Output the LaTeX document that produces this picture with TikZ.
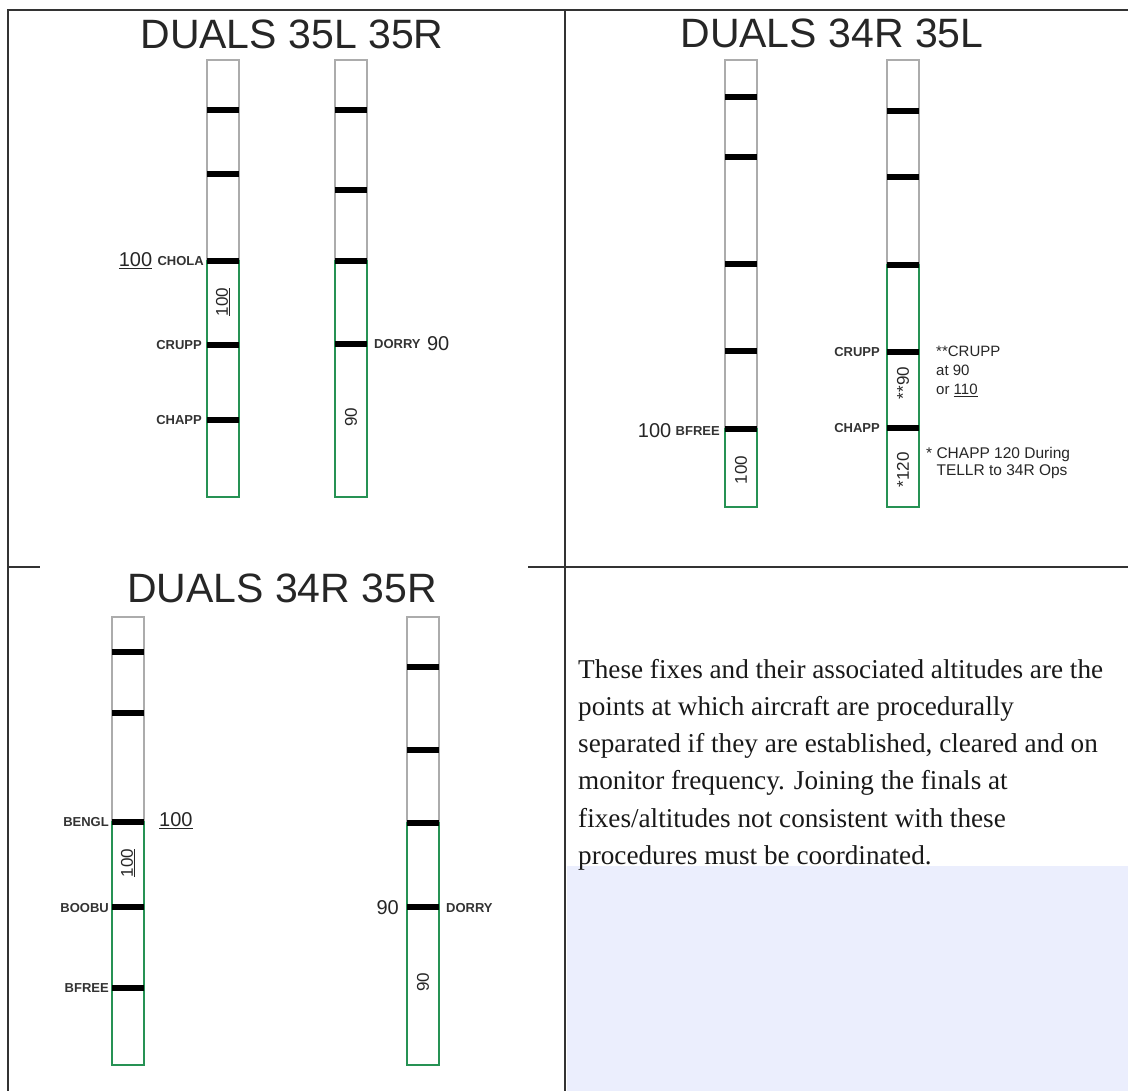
\documentclass[tikz,border=0pt]{standalone}
\usepackage{fontspec}
\setmainfont{Liberation Sans}
\newfontfamily\timesfont{Liberation Serif}
\usepackage{tikz}
\usetikzlibrary{positioning}

\definecolor{boxgreen}{RGB}{38,146,84}
\definecolor{paleblue}{RGB}{235,238,253}

\begin{document}
\begin{tikzpicture}[x=1pt, y=-1pt,
  frame/.style={black!80, line width=1.6pt},
  strip/.style={draw=gray!65, line width=1.2pt},
  fixbox/.style={draw=boxgreen, line width=2pt},
  bar/.style={black, line width=6pt},
  fix/.style={font=\bfseries\fontsize{13}{15}\selectfont, text=black!80, inner sep=1pt},
  alt/.style={font=\fontsize{20}{22}\selectfont, text=black!85, inner sep=1pt},
  inalt/.style={font=\fontsize{17}{19}\selectfont, text=black!85, rotate=90, inner sep=0pt},
  note/.style={font=\fontsize{15}{19}\selectfont, text=black!85, align=left, anchor=north west, inner sep=0pt},
  title/.style={font=\fontsize{41}{45}\selectfont, text=black!85, anchor=base}]
  \useasboundingbox (0,0) rectangle (1128,1091);

  % frame
  \fill[paleblue] (567,866) rectangle (1128,1091);
  \draw[frame] (8,1091) -- (8,10) -- (1128,10);
  \draw[frame] (565,10) -- (565,1091);
  \draw[frame] (8,567) -- (40,567);
  \draw[frame] (528,567) -- (1128,567);

  % DUALS 35L 35R
  \node[title] (titleA) at (292,49) {DUALS 35L 35R};
  \draw[strip] (207,60) rectangle (239,497);
  \draw[fixbox] (207,261) rectangle (239,497);
  \draw[bar] (207,110) -- (239,110);
  \draw[bar] (207,174) -- (239,174);
  \draw[bar] (207,261) -- (239,261);
  \draw[bar] (207,345) -- (239,345);
  \draw[bar] (207,420) -- (239,420);
  \node[fix, anchor=east] (cholaA) at (205,261) {CHOLA};
  \node[alt, left=3pt of cholaA] (altA) {\underline{100}};
  \node[fix, anchor=east] (cruppA) at (203,345) {CRUPP};
  \node[fix, anchor=east] (chappA) at (203,420) {CHAPP};
  \node[inalt] (stripA) at (223,302) {\underline{100}};

  \draw[strip] (335,60) rectangle (367,497);
  \draw[fixbox] (335,261) rectangle (367,497);
  \draw[bar] (335,110) -- (367,110);
  \draw[bar] (335,190) -- (367,190);
  \draw[bar] (335,261) -- (367,261);
  \draw[bar] (335,344) -- (367,344);
  \node[fix, anchor=west] (dorryA) at (373,344) {DORRY};
  \node[alt, right=4pt of dorryA] (altB) {90};
  \node[inalt] (stripB) at (351,417) {90};

  % DUALS 34R 35L
  \node[title] (titleB) at (832,48) {DUALS 34R 35L};
  \draw[strip] (725,60) rectangle (757,507);
  \draw[fixbox] (725,429) rectangle (757,507);
  \draw[bar] (725,97) -- (757,97);
  \draw[bar] (725,157) -- (757,157);
  \draw[bar] (725,264) -- (757,264);
  \draw[bar] (725,351) -- (757,351);
  \draw[bar] (725,429) -- (757,429);
  \node[fix, anchor=east] (bfreeB) at (721,431) {BFREE};
  \node[alt, left=2pt of bfreeB] (altC) {100};
  \node[inalt] (stripC) at (741,470) {100};

  \draw[strip] (887,60) rectangle (919,507);
  \draw[fixbox] (887,265) rectangle (919,507);
  \draw[bar] (887,111) -- (919,111);
  \draw[bar] (887,177) -- (919,177);
  \draw[bar] (887,265) -- (919,265);
  \draw[bar] (887,352) -- (919,352);
  \draw[bar] (887,428) -- (919,428);
  \node[fix, anchor=east] (cruppB) at (881,352) {CRUPP};
  \node[fix, anchor=east] (chappB) at (881,428) {CHAPP};
  \node[inalt] (stripD) at (903,383) {**90};
  \node[inalt] (stripE) at (903,470) {*120};
  \node[note] (cruppnote) at (936,346) {**CRUPP\\at 90\\or \underline{110}};
  \node[note, font=\fontsize{15.5}{17.5}\selectfont] (chappnote) at (926,447) {* CHAPP 120 During\\\hphantom{*\ }TELLR to 34R Ops};

  % DUALS 34R 35R
  \node[title] (titleC) at (282,602) {DUALS 34R 35R};
  \draw[strip] (112,617) rectangle (144,1065);
  \draw[fixbox] (112,822) rectangle (144,1065);
  \draw[bar] (112,652) -- (144,652);
  \draw[bar] (112,713) -- (144,713);
  \draw[bar] (112,822) -- (144,822);
  \draw[bar] (112,907) -- (144,907);
  \draw[bar] (112,988) -- (144,988);
  \node[fix, anchor=east] (benglC) at (110,822) {BENGL};
  \node[alt, anchor=west] (altD) at (158,821) {\underline{100}};
  \node[fix, anchor=east] (boobuC) at (110,908) {BOOBU};
  \node[fix, anchor=east] (bfreeC) at (110,988) {BFREE};
  \node[inalt] (stripF) at (128,863) {\underline{100}};

  \draw[strip] (407,617) rectangle (439,1065);
  \draw[fixbox] (407,823) rectangle (439,1065);
  \draw[bar] (407,667) -- (439,667);
  \draw[bar] (407,750) -- (439,750);
  \draw[bar] (407,823) -- (439,823);
  \draw[bar] (407,907) -- (439,907);
  \node[fix, anchor=west] (dorryC) at (445,908) {DORRY};
  \node[alt, anchor=east] (altE) at (400,908) {90};
  \node[inalt] (stripG) at (423,982) {90};

  % procedure text
  \node[anchor=north west, align=left, inner sep=0pt, text=black!90,
        font=\timesfont\fontsize{27.2}{37.2}\selectfont] (proc) at (578,659)
    {These fixes and their associated altitudes are the\\
     points at which aircraft are procedurally\\
     separated if they are established, cleared and on\\
     monitor frequency. Joining the finals at\\
     fixes/altitudes not consistent with these\\
     procedures must be coordinated.};
\end{tikzpicture}
\end{document}
